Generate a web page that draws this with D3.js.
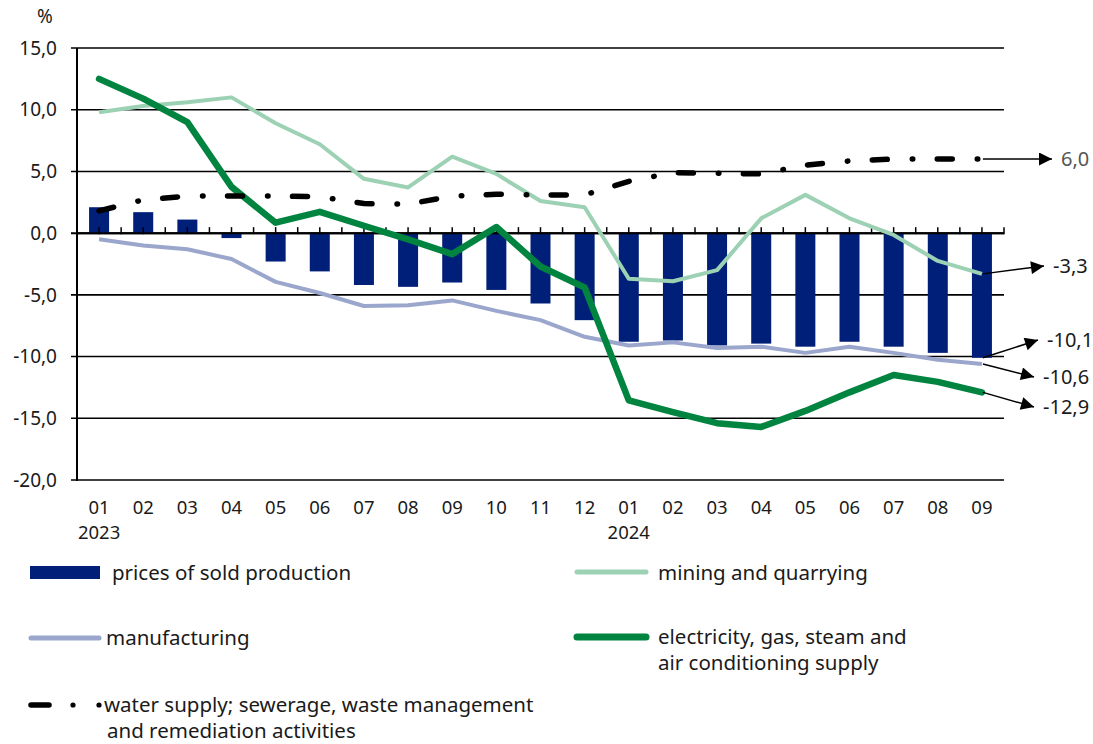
<!DOCTYPE html>
<html>
<head>
<meta charset="utf-8">
<script src="https://cdn.jsdelivr.net/npm/d3@7"></script>
<style>
  body { margin: 0; background: #fff; }
  svg text { font-family: "Noto Sans", "Open Sans", sans-serif; fill: #1a1a1a; }
</style>
</head>
<body>
<div id="chart"></div>
<script>
// months on the x axis
var months = ["01","02","03","04","05","06","07","08","09","10","11","12",
              "01","02","03","04","05","06","07","08","09"];
var yearLabels = [{i: 0, text: "2023"}, {i: 12, text: "2024"}];
var yTicks = [15, 10, 5, 0, -5, -10, -15, -20];

// prices of sold production (bars)
var sold = [2.1, 1.7, 1.1, -0.4, -2.3, -3.1, -4.2, -4.35, -4.0, -4.6, -5.7, -7.05,
            -8.8, -8.7, -9.1, -8.95, -9.2, -8.8, -9.2, -9.7, -10.1];
var manufacturing = [-0.5, -1.0, -1.3, -2.1, -3.95, -4.85, -5.9, -5.85, -5.45, -6.3, -7.05, -8.4,
                     -9.1, -8.85, -9.3, -9.2, -9.7, -9.2, -9.7, -10.25, -10.6];
var mining = [9.8, 10.3, 10.6, 11.0, 8.9, 7.2, 4.4, 3.7, 6.2, 4.8, 2.6, 2.1,
              -3.7, -3.9, -3.0, 1.2, 3.1, 1.2, -0.15, -2.25, -3.3];
var electricity = [12.5, 10.9, 9.0, 3.75, 0.85, 1.73, 0.6, -0.5, -1.7, 0.5, -2.7, -4.4,
                   -13.55, -14.5, -15.4, -15.7, -14.4, -12.9, -11.5, -12.05, -12.9];
var water = [1.8, 2.7, 3.0, 3.0, 3.0, 2.95, 2.4, 2.35, 3.0, 3.15, 3.1, 3.1,
             4.2, 4.9, 4.85, 4.8, 5.5, 5.85, 6.0, 6.0, 6.0];

var width = 1093, height = 744;
var plotL = 77, plotR = 1004, plotT = 48, plotB = 480;

var svg = d3.select("#chart").append("svg")
  .attr("width", width)
  .attr("height", height);

var x = d3.scaleBand().domain(d3.range(months.length)).range([plotL, plotR]).padding(0);
var y = d3.scaleLinear().domain([-20, 15]).range([plotB, plotT]);
var cx = function(i) { return x(i) + x.bandwidth() / 2; };

var fmt = function(v) { return d3.format(".1f")(v).replace(".", ",").replace("\u2212", "-"); };

// horizontal grid
svg.append("g")
  .selectAll("line")
  .data(yTicks)
  .enter().append("line")
    .attr("x1", plotL - 6).attr("x2", plotR)
    .attr("y1", function(d) { return y(d); })
    .attr("y2", function(d) { return y(d); })
    .attr("stroke", "#000")
    .attr("stroke-width", function(d) { return d === 0 ? 2 : 1.6; });

// y labels
svg.append("g")
  .selectAll("text")
  .data(yTicks)
  .enter().append("text")
    .attr("x", 57).attr("y", function(d) { return y(d); })
    .attr("dy", "0.35em")
    .attr("text-anchor", "end")
    .style("font-size", "19px")
    .text(fmt);

svg.append("text").attr("x", 45).attr("y", 23)
  .attr("text-anchor", "middle").style("font-size", "19px").text("%");

// bars
svg.append("g")
  .selectAll("rect")
  .data(sold)
  .enter().append("rect")
    .attr("x", function(d, i) { return cx(i) - 10; })
    .attr("width", 20)
    .attr("y", function(d) { return y(Math.max(0, d)); })
    .attr("height", function(d) { return Math.abs(y(d) - y(0)); })
    .attr("fill", "#001f78");

// zero axis with ticks every half month
svg.append("line")
  .attr("x1", plotL).attr("x2", plotR)
  .attr("y1", y(0)).attr("y2", y(0))
  .attr("stroke", "#000").attr("stroke-width", 2);
svg.append("g")
  .selectAll("line")
  .data(d3.range(months.length * 2 + 1))
  .enter().append("line")
    .attr("x1", function(k) { return plotL + k * x.bandwidth() / 2; })
    .attr("x2", function(k) { return plotL + k * x.bandwidth() / 2; })
    .attr("y1", y(0) - 6).attr("y2", y(0) + 1)
    .attr("stroke", "#000").attr("stroke-width", 1.5);

// left axis
svg.append("line")
  .attr("x1", plotL).attr("x2", plotL)
  .attr("y1", plotT).attr("y2", plotB + 1)
  .attr("stroke", "#000").attr("stroke-width", 2);

// x labels
svg.append("g")
  .selectAll("text")
  .data(months)
  .enter().append("text")
    .attr("x", function(d, i) { return cx(i); })
    .attr("y", 514)
    .attr("text-anchor", "middle")
    .style("font-size", "18.5px")
    .text(function(d) { return d; });
svg.append("g")
  .selectAll("text")
  .data(yearLabels)
  .enter().append("text")
    .attr("x", function(d) { return cx(d.i); })
    .attr("y", 539)
    .attr("text-anchor", "middle")
    .style("font-size", "18.5px")
    .text(function(d) { return d.text; });

// lines
var line = d3.line()
  .x(function(d, i) { return cx(i); })
  .y(function(d) { return y(d); });

svg.append("path").datum(manufacturing)
  .attr("d", line).attr("fill", "none")
  .attr("stroke", "#9aa6cc").attr("stroke-width", 4).attr("stroke-linejoin", "round");
svg.append("path").datum(mining)
  .attr("d", line).attr("fill", "none")
  .attr("stroke", "#9dd1b4").attr("stroke-width", 4).attr("stroke-linejoin", "round");
svg.append("path").datum(electricity)
  .attr("d", line).attr("fill", "none")
  .attr("stroke", "#00843f").attr("stroke-width", 6.5).attr("stroke-linejoin", "round")
  .attr("stroke-linecap", "round");
svg.append("path").datum(water)
  .attr("d", line).attr("fill", "none")
  .attr("stroke", "#000").attr("stroke-width", 5.5)
  .attr("stroke-linecap", "round")
  .attr("stroke-dasharray", "15,25,0.5,24.5");

// end-value callouts
var last = months.length - 1;
var callouts = [
  {v: water[last], lx: 1052, ly: 159, color: "#555"},
  {v: mining[last], lx: 1044, ly: 266, color: "#1a1a1a"},
  {v: sold[last], lx: 1038, ly: 340, color: "#1a1a1a"},
  {v: manufacturing[last], lx: 1034, ly: 377, color: "#1a1a1a"},
  {v: electricity[last], lx: 1034, ly: 407, color: "#1a1a1a"}
];

svg.append("defs").append("marker")
  .attr("id", "arrow")
  .attr("viewBox", "0 0 10 10")
  .attr("refX", 10).attr("refY", 5)
  .attr("markerWidth", 16).attr("markerHeight", 13)
  .attr("markerUnits", "userSpaceOnUse")
  .attr("orient", "auto")
  .append("path").attr("d", "M0,0L10,5L0,10Z").attr("fill", "#000");

var co = svg.append("g").selectAll("g").data(callouts).enter().append("g");
co.append("line")
  .attr("x1", function(d) { return cx(last) + 1; })
  .attr("y1", function(d) { return y(d.v); })
  .attr("x2", function(d) { return d.lx; })
  .attr("y2", function(d) { return d.ly; })
  .attr("stroke", "#000").attr("stroke-width", 1.5)
  .attr("marker-end", "url(#arrow)");
co.append("text")
  .attr("x", function(d) { return d.lx + 9; })
  .attr("y", function(d) { return d.ly; })
  .attr("dy", "0.35em")
  .style("font-size", "20px")
  .style("fill", function(d) { return d.color; })
  .text(function(d) { return fmt(d.v); });

// legend
var lg = svg.append("g");
var fs = "20.5px";
lg.append("rect").attr("x", 30).attr("y", 566).attr("width", 70).attr("height", 13).attr("fill", "#001f78");
lg.append("text").attr("x", 112).attr("y", 580).style("font-size", fs).text("prices of sold production");

lg.append("line").attr("x1", 31).attr("x2", 99).attr("y1", 638).attr("y2", 638)
  .attr("stroke", "#9aa6cc").attr("stroke-width", 5).attr("stroke-linecap", "round");
lg.append("text").attr("x", 106).attr("y", 645).style("font-size", fs).text("manufacturing");

lg.append("line").attr("x1", 31).attr("x2", 49).attr("y1", 705).attr("y2", 705)
  .attr("stroke", "#000").attr("stroke-width", 5.5).attr("stroke-linecap", "round");
lg.append("circle").attr("cx", 73).attr("cy", 705).attr("r", 2.6).attr("fill", "#000");
lg.append("circle").attr("cx", 99).attr("cy", 705).attr("r", 2.6).attr("fill", "#000");
lg.append("text").attr("x", 104).attr("y", 712).style("font-size", fs).text("water supply; sewerage, waste management");
lg.append("text").attr("x", 107).attr("y", 738).style("font-size", fs).text("and remediation activities");

lg.append("line").attr("x1", 577).attr("x2", 646).attr("y1", 572).attr("y2", 572)
  .attr("stroke", "#9dd1b4").attr("stroke-width", 5).attr("stroke-linecap", "round");
lg.append("text").attr("x", 658).attr("y", 580).style("font-size", fs).text("mining and quarrying");

lg.append("line").attr("x1", 577).attr("x2", 646).attr("y1", 637).attr("y2", 637)
  .attr("stroke", "#00843f").attr("stroke-width", 7).attr("stroke-linecap", "round");
lg.append("text").attr("x", 658).attr("y", 644).style("font-size", fs).text("electricity, gas, steam and");
lg.append("text").attr("x", 658).attr("y", 670).style("font-size", fs).text("air conditioning supply");
</script>
</body>
</html>
